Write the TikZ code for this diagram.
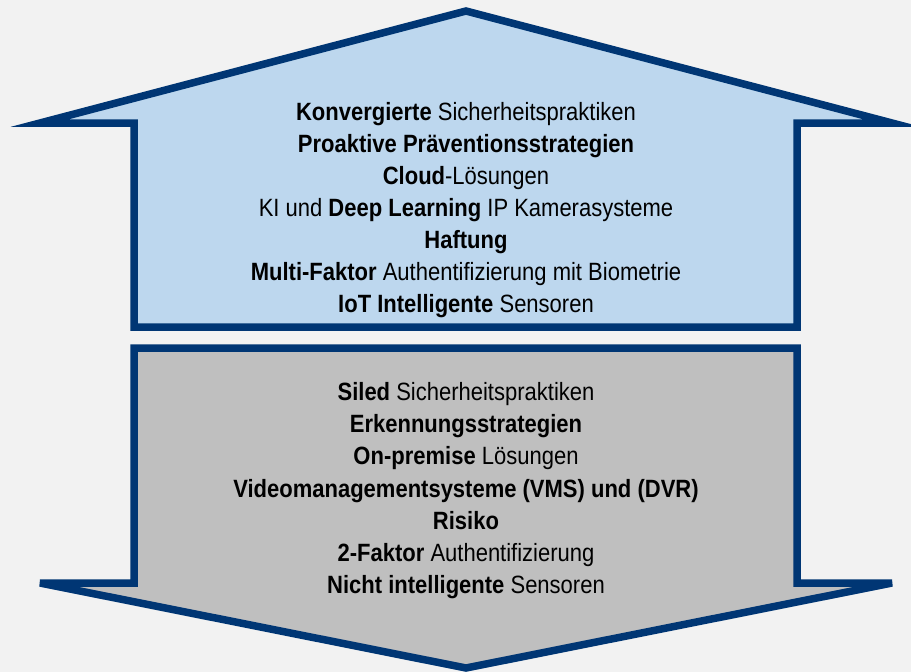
\documentclass[tikz,border=0pt]{standalone}
\usepackage{fontspec}
\setmainfont{Liberation Sans}[FakeStretch=0.88]
\usepackage{tikz}
\usetikzlibrary{positioning}
\definecolor{bggray}{RGB}{242,242,242}
\definecolor{navyline}{RGB}{0,54,116}
\definecolor{skyfill}{RGB}{189,215,238}
\definecolor{greyfill}{RGB}{191,191,191}
\begin{document}
\begin{tikzpicture}[line cap=butt,line join=miter,x=1pt,y=-1pt,
  arrowshape/.style={draw=navyline,line width=7.5pt},
  lbl/.style={anchor=base,inner sep=0pt,font=\fontsize{25}{30}\selectfont}]
\useasboundingbox (0,0) rectangle (911,672);
\fill [bggray] (0,0) rectangle (911,672);
\draw [arrowshape,fill=skyfill] (40,123)-- (134,123)-- (134,327)-- (797,327)-- (797,123)-- (892,123)-- (466,11)-- cycle;
\draw [arrowshape,fill=greyfill,miter limit=5] (134,348)-- (797,348)-- (797,583)-- (892,583)-- (466,668)-- (40,583)-- (134,583)-- cycle;
\node[lbl] (konv) at (466,120) {\textbf{Konvergierte} Sicherheitspraktiken};
\node[lbl] (praev) at (466,152) {\textbf{Proaktive Präventionsstrategien}};
\node[lbl] (cloud) at (466,184) {\textbf{Cloud}-Lösungen};
\node[lbl] (ki) at (466,216) {KI und \textbf{Deep Learning} IP Kamerasysteme};
\node[lbl] (haft) at (466,248) {\textbf{Haftung}};
\node[lbl] (mfa) at (466,280) {\textbf{Multi-Faktor} Authentifizierung mit Biometrie};
\node[lbl] (iot) at (466,312) {\textbf{IoT Intelligente} Sensoren};
\node[lbl] (siled) at (466,400) {\textbf{Siled} Sicherheitspraktiken};
\node[lbl] (erk) at (466,432) {\textbf{Erkennungsstrategien}};
\node[lbl] (onprem) at (466,464) {\textbf{On-premise} Lösungen};
\node[lbl] (vms) at (466,497) {\textbf{Videomanagementsysteme (VMS) und (DVR)}};
\node[lbl] (risiko) at (466,529) {\textbf{Risiko}};
\node[lbl] (zfa) at (466,561) {\textbf{2-Faktor} Authentifizierung};
\node[lbl] (nicht) at (466,593) {\textbf{Nicht intelligente} Sensoren};
\end{tikzpicture}
\end{document}
